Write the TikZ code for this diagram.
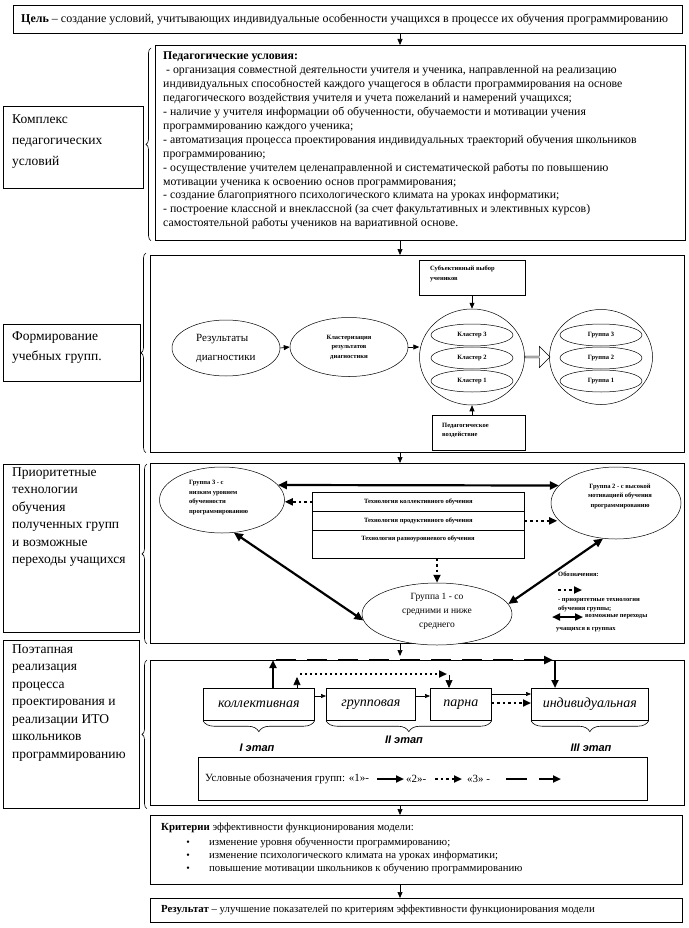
\documentclass[tikz,border=0pt]{standalone}
\usepackage{fontspec}
\setmainfont{Liberation Serif}
\newfontfamily\arialfont{Liberation Sans}
\usetikzlibrary{arrows.meta,decorations.pathreplacing,shapes.geometric,shapes.arrows,calc}
\newcommand{\fsz}[2]{\fontsize{#1}{#2}\selectfont}
\begin{document}
\begin{tikzpicture}[x=1pt,y=-1pt,
  box/.style={draw, line width=0.7pt, inner sep=0pt, anchor=north west},
  arr/.style={line width=0.7pt, -{Triangle[length=6pt,width=5pt]}},
  tarr/.style={line width=0.6pt, -{Triangle[length=5pt,width=4pt]}},
  thk/.style={line width=2pt, -{Triangle[length=8pt,width=7pt]}},
  dbl/.style={line width=2.2pt, {Triangle[length=9pt,width=8pt]}-{Triangle[length=9pt,width=8pt]}},
  dots/.style={line width=2.4pt, dash pattern=on 2.5pt off 3pt, -{Triangle[length=8pt,width=7pt]}},
  dsh/.style={line width=2.4pt, dash pattern=on 20pt off 11pt},
  ell/.style={draw, ellipse, line width=0.5pt, inner sep=0pt},
  tiny/.style={font=\bfseries\fsz{6.5}{9.5}, align=left, inner sep=0pt},
  lbl/.style={anchor=north west, inner sep=0pt, align=left},
  brc/.style={decorate, decoration={brace, amplitude=5pt}, line width=0.6pt},
  ubrc/.style={decorate, decoration={brace, mirror, amplitude=11pt}, line width=0.6pt},
  ital/.style={font=\itshape\fsz{14}{16}},
]
\useasboundingbox (0,0) rectangle (688,928);
\coordinate (xa) at (400,0);

% ---------- goal ----------
\node[box, minimum width=669, minimum height=28] (goal) at (13,5) {};
\node[anchor=west, inner sep=0pt, font=\fsz{12}{14}] (goalt) at ($(goal.west)+(8,0)$)
  {\textbf{Цель} – создание условий, учитывающих индивидуальные особенности учащихся в процессе  их обучения программированию};

% ---------- section 1 ----------
\node[box, minimum width=530, minimum height=195] (cond) at (155,45) {};
\node[lbl, font=\fsz{11.8}{13.9}] (condt) at (163,52)
  {\textbf{Педагогические условия:}\\
   \ - организация совместной деятельности учителя и ученика, направленной на реализацию\\
   индивидуальных способностей каждого учащегося в области программирования на основе\\
   педагогического воздействия учителя и учета пожеланий и намерений учащихся;\\
   - наличие у учителя информации об обученности, обучаемости и мотивации учения\\
   программированию каждого ученика;\\
   - автоматизация процесса проектирования индивидуальных траекторий обучения школьников\\
   программированию;\\
   - осуществление учителем целенаправленной и систематической работы по повышению\\
   мотивации ученика к освоению основ программирования;\\
   - создание благоприятного психологического климата на уроках информатики;\\
   - построение классной и внеклассной (за счет факультативных и элективных курсов)\\
   самостоятельной работы учеников на вариативной основе.};
\node[box, minimum width=140, minimum height=82] (k1) at (3,106) {};
\node[lbl, font=\fsz{13.5}{21}] (k1t) at (12,114) {Комплекс\\педагогических\\условий};
\draw[brc] ($(cond.south west)+(-4,0)$) -- ($(cond.north west)+(-4,3)$);

% ---------- section 2 ----------
\node[box, minimum width=534, minimum height=197] (s2) at (150,255) {};
\node[box, minimum width=137, minimum height=57] (k2) at (3,324) {};
\node[lbl, font=\fsz{13.5}{20}] (k2t) at (12,331) {Формирование\\учебных групп.};
\draw[brc] ($(s2.south west)+(-4,0)$) -- ($(s2.north west)+(-4,-2)$);

\node[ell, minimum width=108, minimum height=56] (e1) at (226,348) {};
\node[lbl, anchor=west, font=\fsz{11}{19}] (e1t) at (196,348) {Результаты\\диагностики};
\node[ell, minimum width=118, minimum height=59] (e2) at (349,347) {};
\node[tiny, align=center] (e2t) at (349,347) {Кластеризация\\результатов\\диагностики};
\node[ell, minimum width=105, minimum height=96] (c1) at (472,357) {};
\node[ell, tiny, minimum width=82, minimum height=22] (k3c) at (472,335) {Кластер 3};
\node[ell, tiny, minimum width=82, minimum height=22] (k2c) at (472,358) {Кластер 2};
\node[ell, tiny, minimum width=82, minimum height=22] (k1c) at (472,381) {Кластер 1};
\node[single arrow, draw, line width=0.5pt, minimum height=25, minimum width=21,
      single arrow head extend=3pt, inner sep=0pt, fill=white] (bar) at (537,357) {};
\node[ell, minimum width=103, minimum height=95] (c2) at (601,357) {};
\node[ell, tiny, minimum width=82, minimum height=22] (gr3) at (601,335) {Группа 3};
\node[ell, tiny, minimum width=82, minimum height=22] (gr2) at (601,358) {Группа 2};
\node[ell, tiny, minimum width=82, minimum height=22] (gr1) at (601,381) {Группа 1};
\node[box, minimum width=106, minimum height=35] (sv) at (419,260) {};
\node[tiny, anchor=north west] (svt) at (430,266) {Субъективный выбор\\учеников};
\node[box, minimum width=93, minimum height=35] (pv) at (432,415) {};
\node[tiny, anchor=north west] (pvt) at (442,423) {Педагогическое\\воздействие};
\draw[arr] (e1.east) -- (e2.west);
\draw[arr] (e2.east) -- (e2.east -| c1.west);
\draw[arr] (sv.south -| c1.north) -- (c1.north);
\draw[arr] (pv.north -| c1.south) -- (c1.south);

% ---------- section 3 ----------
\node[box, minimum width=534, minimum height=180] (s3) at (150,463) {};
\node[box, minimum width=136, minimum height=168] (k3) at (3,464) {};
\node[lbl, font=\fsz{13.5}{17.5}] (k3t) at (12,467) {Приоритетные\\технологии\\обучения\\полученных групп\\и возможные\\переходы учащихся};
\draw[brc] ($(s3.south west)+(-3,0)$) -- ($(s3.north west)+(-3,1)$);

\node[ell, minimum width=125, minimum height=66] (g3) at (222,500) {};
\node[tiny, anchor=north west] (g3t) at (189,480) {Группа 3 - с\\низким уровнем\\обученности\\программированию};
\node[ell, minimum width=130, minimum height=72] (g2) at (616,503) {};
\node[tiny, align=center] (g2t) at (620,496) {Группа 2 - с высокой\\мотивацией обучения\\программированию};
\node[ell, minimum width=150, minimum height=62, fill=white] (g1) at (437,614) {};
\node[align=center, inner sep=0pt, font=\fsz{9.5}{14}] (g1t) at (437,611) {Группа 1 - со\\средними и ниже\\среднего};
\node[box, tiny, align=center, minimum width=212, minimum height=19] (t1) at (312,492) {Технология коллективного обучения};
\node[box, tiny, align=center, minimum width=212, minimum height=19] (t2) at (312,511) {Технология продуктивного обучения};
\node[box, minimum width=212, minimum height=28] (t3) at (312,530) {};
\node[tiny] (t3t) at (418,539) {Технология разноуровневого обучения};

\draw[dbl] (g3.15) -- (g2.163);
\draw[dots] (t1.west) -- (t1.west -| g3.east);
\draw[dots] (t2.east) -- (t2.east -| g2.195);
\draw[dots] (t3.south -| g1.north) -- (g1.north);
\draw[dbl] (g3.290) -- (g1.185);
\draw[dbl] (g2.250) -- (g1.8);

\node[tiny, anchor=north west] (leg1) at (558,572) {Обозначения:};
\coordinate (ld1) at (558,590);
\coordinate (ld2) at (582,590);
\draw[dots] (ld1) -- (ld2);
\node[tiny, anchor=north west] (leg2) at (558,598) {- приоритетные технологии\\обучения группы;};
\coordinate (lb1) at (552,617);
\coordinate (lb2) at (583,617);
\draw[line width=2.2pt, {Triangle[length=8pt,width=7pt]}-{Triangle[length=8pt,width=7pt]}] (lb1) -- (lb2);
\node[tiny, anchor=west] (leg3) at (585,617) {возможные переходы};
\node[tiny, anchor=north west] (leg4) at (556,627) {учащихся в группах};

% ---------- section 4 ----------
\node[box, minimum width=534, minimum height=145] (s4) at (150,660) {};
\node[box, minimum width=136, minimum height=168] (k4) at (3,640) {};
\node[lbl, font=\fsz{13.5}{17.5}] (k4t) at (12,644) {Поэтапная\\реализация\\процесса\\проектирования и\\реализации ИТО\\школьников\\программированию};
\draw[brc] ($(s4.south west)+(-3,3)$) -- ($(s4.north west)+(-3,0)$);

\node[box, minimum width=111, minimum height=32] (b1) at (203,688) {};
\node[ital, inner sep=0pt] (b1t) at (b1.center) {коллективная};
\node[box, minimum width=89, minimum height=32] (b2) at (326,688) {};
\node[ital, inner sep=0pt] (b2t) at (b2.center) {групповая};
\node[box, minimum width=61, minimum height=32] (b3) at (430,688) {};
\node[ital, inner sep=0pt] (b3t) at (b3.center) {парна};
\node[box, minimum width=117, minimum height=32] (b4) at (531,688) {};
\node[ital, inner sep=0pt] (b4t) at (b4.center) {индивидуальная};
\draw[ubrc] (b1.south west) -- (b1.south east);
\draw[ubrc] (b2.south west) -- (b3.south east);
\draw[ubrc] (b4.south west) -- (b4.south east);
\node[font=\arialfont\bfseries\itshape\fsz{11}{13}] (st1) at (257,748) {I этап};
\node[font=\arialfont\bfseries\itshape\fsz{11}{13}] (st2) at (404,740) {II этап};
\node[font=\arialfont\bfseries\itshape\fsz{11}{13}] (st3) at (591,748) {III этап};

\draw[tarr] ($(b1.north east)+(0,8)$) -- ($(b2.north west)+(0,8)$);
\draw[tarr] ($(b2.north east)+(0,8)$) -- ($(b3.north west)+(0,8)$);
\draw[tarr] ($(b3.north east)+(0,6)$) -- ($(b4.north west)+(0,6)$);
\draw[dots] ($(b3.north east)+(0,15)$) -- ($(b4.north west)+(0,15)$);
\draw[thk] ($(b1.north west)+(70,0)$) -- ($(b1.north west)+(70,-28)$);
\draw[dsh, -{Triangle[length=9pt,width=8pt]}] ($(b1.north west)+(73,-28)$) -- ($(b4.north west)+(22,-28)$);
\draw[thk] ($(b4.north west)+(24,-28)$) -- ($(b4.north west)+(24,0)$);
\draw[line width=0.6pt, -{Triangle[length=8pt,width=7pt]}] ($(b1.north west)+(94,0)$) -- ($(b1.north west)+(94,-11)$);
\draw[line width=2pt, dash pattern=on 2pt off 3pt, -{Triangle[length=8pt,width=7pt]}] ($(b1.north west)+(97,-14)$) -- ($(b3.north west)+(17,-14)$);
\draw[line width=0.6pt, -{Triangle[length=8pt,width=7pt]}] ($(b3.north west)+(19,-13)$) -- ($(b3.north west)+(19,0)$);

\node[box, minimum width=449, minimum height=43] (lg) at (198,757) {};
\node[anchor=west, inner sep=0pt, font=\fsz{11}{14}] (lt1) at (205,779) {Условные обозначения групп: «1»-};
\node[anchor=west, inner sep=0pt, font=\fsz{11}{14}] (lt2) at (406,779) {«2»-};
\node[anchor=west, inner sep=0pt, font=\fsz{11}{14}] (lt3) at (467,779) {«3» -};
\coordinate (la1) at (377,779);
\coordinate (la2) at (404,779);
\coordinate (la3) at (435,779);
\coordinate (la4) at (462,779);
\coordinate (la5) at (506,779);
\coordinate (la6) at (527,779);
\coordinate (la7) at (539,779);
\coordinate (la8) at (561,779);
\draw[thk] (la1) -- (la2);
\draw[dots] (la3) -- (la4);
\draw[line width=2.4pt] (la5) -- (la6);
\draw[thk] (la7) -- (la8);

% ---------- criteria & result ----------
\node[box, minimum width=532, minimum height=69] (crit) at (150,815) {};
\node[anchor=west, inner sep=0pt, font=\fsz{10.8}{12}] (critt) at (161,828) {\textbf{Критерии} эффективности функционирования модели:};
\node[inner sep=0pt, font=\fsz{10}{12}] (bu1) at (188,843) {•};
\node[inner sep=0pt, font=\fsz{10}{12}] (bu2) at (188,856) {•};
\node[inner sep=0pt, font=\fsz{10}{12}] (bu3) at (188,869) {•};
\node[anchor=west, inner sep=0pt, font=\fsz{10.8}{12}] (cr1) at (209,843) {изменение уровня обученности программированию;};
\node[anchor=west, inner sep=0pt, font=\fsz{10.8}{12}] (cr2) at (209,856) {изменение психологического климата на уроках информатики;};
\node[anchor=west, inner sep=0pt, font=\fsz{10.8}{12}] (cr3) at (209,869) {повышение мотивации школьников к обучению программированию};
\node[box, minimum width=532, minimum height=24] (res) at (150,898) {};
\node[anchor=west, inner sep=0pt, font=\fsz{10.8}{12}] (rest) at (161,910) {\textbf{Результат} – улучшение показателей по критериям эффективности функционирования модели};

% ---------- main arrows ----------
\draw[arr] (goal.south -| xa) -- (cond.north -| xa);
\draw[arr] (cond.south -| xa) -- (s2.north -| xa);
\draw[arr] (s2.south -| xa) -- (s3.north -| xa);
\draw[arr] (s3.south -| xa) -- ($(s4.north -| xa)+(0,-4)$);
\draw[arr] (s4.south -| xa) -- (crit.north -| xa);
\draw[arr] (crit.south -| xa) -- (res.north -| xa);
\end{tikzpicture}
\end{document}
